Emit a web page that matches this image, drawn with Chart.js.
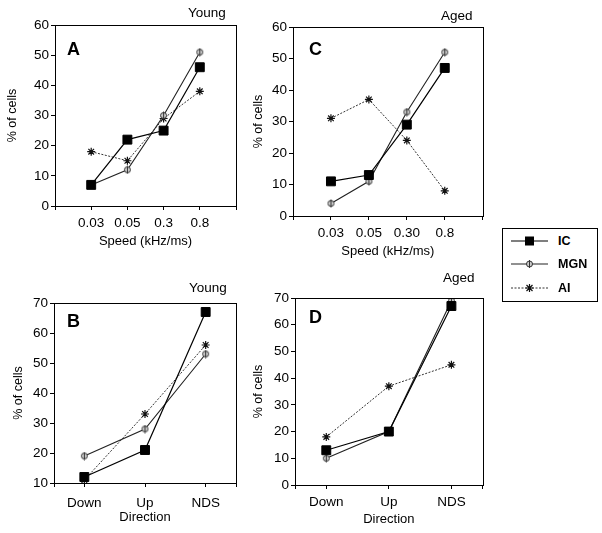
<!DOCTYPE html>
<html>
<head>
<meta charset="utf-8">
<script src="https://cdn.jsdelivr.net/npm/chart.js@4"></script>
<style>
  body { margin: 0; background: #fff; }
  #wrap { position: relative; width: 602px; height: 533px; overflow: hidden; font-family: "Liberation Sans", Arial, sans-serif; color: #000; }
  canvas { position: absolute; }
  .txt { position: absolute; font-size: 13.5px; line-height: 14px; white-space: nowrap; }
  .letter { position: absolute; font-size: 18px; line-height: 18px; font-weight: bold; }
  #legend { position: absolute; left: 502px; top: 228px; width: 94px; height: 72px; border: 1px solid #000; }
  #legend div { position: absolute; left: 0; height: 16px; font-size: 12.5px; font-weight: bold; }
  #legend svg { position: absolute; left: 8px; top: 0; }
  #legend span { position: absolute; left: 55px; top: 1px; }
</style>
</head>
<body>
<div id="wrap">
  <canvas id="chartA" width="246" height="250" style="left:0;top:0"></canvas>
  <canvas id="chartC" width="244" height="265" style="left:246px;top:0"></canvas>
  <canvas id="chartB" width="246" height="268" style="left:0;top:265px"></canvas>
  <canvas id="chartD" width="244" height="268" style="left:246px;top:265px"></canvas>

  <div class="txt" style="left:188px;top:6px">Young</div>
  <div class="txt" style="left:441px;top:9px">Aged</div>
  <div class="txt" style="left:189px;top:281px">Young</div>
  <div class="txt" style="left:443px;top:271px">Aged</div>
  <div class="letter" style="left:67px;top:40px">A</div>
  <div class="letter" style="left:309px;top:40px">C</div>
  <div class="letter" style="left:67px;top:312px">B</div>
  <div class="letter" style="left:309px;top:308px">D</div>

  <div id="legend">
    <div style="top:4px;width:94px">
      <svg width="40" height="16"><line x1="0" y1="8" x2="37" y2="8" stroke="#000" stroke-width="1.2"/><rect x="14" y="3.5" width="9" height="9" fill="#000"/></svg>
      <span>IC</span>
    </div>
    <div style="top:27px;width:94px">
      <svg width="40" height="16"><line x1="0" y1="8" x2="37" y2="8" stroke="#222" stroke-width="1.2"/><circle cx="18.5" cy="8" r="3" fill="#ccc" stroke="#333"/><line x1="18.5" y1="4" x2="18.5" y2="12" stroke="#333"/></svg>
      <span>MGN</span>
    </div>
    <div style="top:51px;width:94px">
      <svg width="40" height="16"><line x1="0" y1="8" x2="37" y2="8" stroke="#333" stroke-width="1" stroke-dasharray="2,1.5"/><path d="M14.5 8h8M18.5 4v8M15.5 5l6 6M21.5 5l-6 6" stroke="#111" stroke-width="1.2"/></svg>
      <span>AI</span>
    </div>
  </div>
</div>

<script>
// categorias
const speedLabels = ['0.03', '0.05', '0.3', '0.8'];
const speedLabelsAged = ['0.03', '0.05', '0.30', '0.8'];
const directionLabels = ['Down', 'Up', 'NDS'];

// A: velocidad, jóvenes
const youngSpeedIC = [7, 22, 25, 46];
const youngSpeedMGN = [7, 12, 30, 51];
const youngSpeedAI = [18, 15, 29, 38];
// C: velocidad, viejos
const agedSpeedIC = [11, 13, 29, 47];
const agedSpeedMGN = [4, 11, 33, 52];
const agedSpeedAI = [31, 37, 24, 8];
// B: dirección, jóvenes
const youngDirIC = [12, 21, 67];
const youngDirMGN = [19, 28, 53];
const youngDirAI = [11, 33, 56];
// D: dirección, viejos
const agedDirIC = [13, 20, 67];
const agedDirMGN = [10, 20, 69];
const agedDirAI = [18, 37, 45];

const FONT = '"Liberation Sans", Arial, sans-serif';

// marcador MGN: círculo gris con línea vertical
function makeMgnMarker() {
  const c = document.createElement('canvas');
  c.width = 9; c.height = 9;
  const g = c.getContext('2d');
  g.beginPath();
  g.arc(4.5, 4.5, 3, 0, Math.PI * 2);
  g.fillStyle = '#ccc';
  g.fill();
  g.strokeStyle = '#333';
  g.lineWidth = 1;
  g.stroke();
  g.beginPath();
  g.moveTo(4.5, 0.5); g.lineTo(4.5, 8.5);
  g.stroke();
  return c;
}
const mgnMarker = makeMgnMarker();

// recuadro completo alrededor del área de la gráfica
const boxPlugin = {
  id: 'boxPlugin',
  afterDraw(chart) {
    const a = chart.chartArea;
    const ctx = chart.ctx;
    ctx.save();
    ctx.strokeStyle = '#000';
    ctx.lineWidth = 1;
    ctx.strokeRect(Math.round(a.left) + 0.5, Math.round(a.top) + 0.5, Math.round(a.right - a.left), Math.round(a.bottom - a.top));
    ctx.restore();
  }
};

function toPoints(values) {
  return values.map((v, i) => ({ x: i, y: v }));
}

function makeDatasets(ic, mgn, ai) {
  return [
    { label: 'IC', data: toPoints(ic), borderColor: '#000', borderWidth: 1.2, pointStyle: 'rect',
      pointRadius: 6.3, backgroundColor: '#000', pointBorderColor: '#000', pointBorderWidth: 1 },
    { label: 'MGN', data: toPoints(mgn), borderColor: '#222', borderWidth: 1.1, pointStyle: mgnMarker,
      pointRadius: 4 },
    { label: 'AI', data: toPoints(ai), borderColor: '#333', borderWidth: 1, borderDash: [2, 1.5],
      pointStyle: 'star', pointRadius: 4, pointBorderColor: '#111', pointBorderWidth: 1.2, backgroundColor: '#111' }
  ];
}

function makeChart(id, cfg) {
  const n = cfg.labels.length;
  const half = cfg.xPad;
  const tickVals = [-half];
  for (let i = 0; i < n; i++) tickVals.push(i);
  tickVals.push(n - 1 + half);

  return new Chart(document.getElementById(id), {
    type: 'line',
    data: { datasets: makeDatasets(cfg.ic, cfg.mgn, cfg.ai) },
    options: {
      responsive: false,
      animation: false,
      layout: { padding: { top: cfg.padTop, right: cfg.padRight, left: 0, bottom: 0 } },
      plugins: { legend: { display: false }, tooltip: { enabled: false } },
      scales: {
        x: {
          type: 'linear',
          min: -half,
          max: n - 1 + half,
          afterBuildTicks: (scale) => { scale.ticks = tickVals.map(v => ({ value: v })); },
          afterFit: (scale) => { scale.height = cfg.xHeight; },
          ticks: {
            autoSkip: false, maxRotation: 0, padding: cfg.xTickPad, color: '#000',
            font: { family: FONT, size: 13.5 },
            callback: (v) => (cfg.labels[v] !== undefined ? cfg.labels[v] : '')
          },
          grid: { drawOnChartArea: false, tickLength: 4, lineWidth: 1, color: '#000' },
          border: { display: true, color: '#000', width: 1 },
          title: { display: true, text: cfg.xTitle, color: '#000', font: { family: FONT, size: 13 },
            padding: { top: 0, bottom: cfg.xTitlePad } }
        },
        y: {
          min: cfg.yMin,
          max: cfg.yMax,
          afterFit: (scale) => { scale.width = cfg.yWidth; },
          ticks: { stepSize: 10, padding: 2, color: '#000', font: { family: FONT, size: 13.5 } },
          grid: { drawOnChartArea: false, tickLength: 4, color: '#000', lineWidth: 1 },
          border: { display: true, color: '#000', width: 1 },
          title: { display: true, text: '% of cells', color: '#000', font: { family: FONT, size: 12.5 },
            padding: { top: cfg.yTitlePad, bottom: 0 } }
        }
      }
    },
    plugins: [boxPlugin]
  });
}

makeChart('chartA', {
  labels: speedLabels, ic: youngSpeedIC, mgn: youngSpeedMGN, ai: youngSpeedAI,
  xPad: 1, yMin: 0, yMax: 60, xTitle: 'Speed (kHz/ms)',
  padTop: 25, padRight: 10, yWidth: 55, xHeight: 44, xTickPad: 5, xTitlePad: 1, yTitlePad: 5
});
makeChart('chartC', {
  labels: speedLabelsAged, ic: agedSpeedIC, mgn: agedSpeedMGN, ai: agedSpeedAI,
  xPad: 1, yMin: 0, yMax: 60, xTitle: 'Speed (kHz/ms)',
  padTop: 27, padRight: 7, yWidth: 47, xHeight: 49, xTickPad: 5, xTitlePad: 6, yTitlePad: 5
});
makeChart('chartB', {
  labels: directionLabels, ic: youngDirIC, mgn: youngDirMGN, ai: youngDirAI,
  xPad: 0.5, yMin: 10, yMax: 70, xTitle: 'Direction',
  padTop: 38, padRight: 10, yWidth: 54, xHeight: 50, xTickPad: 8, xTitlePad: 8, yTitlePad: 11
});
makeChart('chartD', {
  labels: directionLabels, ic: agedDirIC, mgn: agedDirMGN, ai: agedDirAI,
  xPad: 0.5, yMin: 0, yMax: 70, xTitle: 'Direction',
  padTop: 33, padRight: 7, yWidth: 49, xHeight: 48, xTickPad: 5, xTitlePad: 6, yTitlePad: 5
});
</script>
</body>
</html>
